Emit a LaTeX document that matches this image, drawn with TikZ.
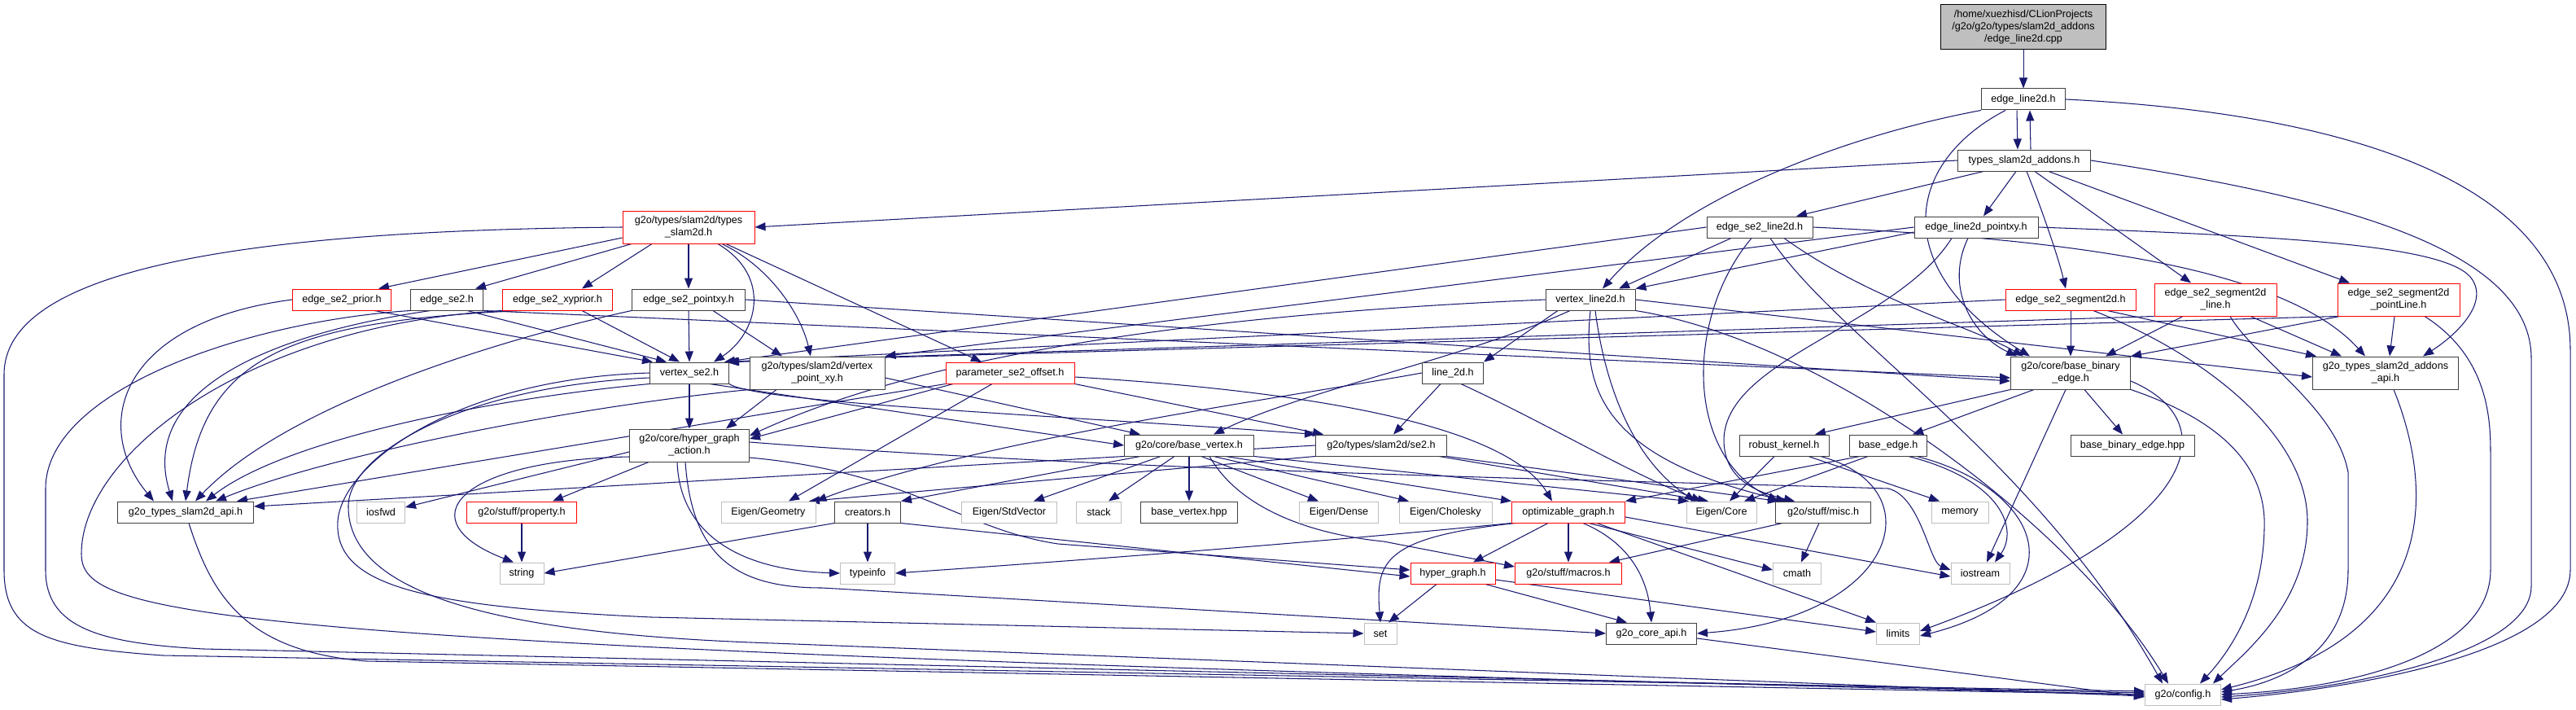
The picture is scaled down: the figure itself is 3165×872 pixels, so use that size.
\documentclass[tikz,border=0pt]{standalone}
\usepackage{fontspec}
\setmainfont{Liberation Sans}
\usetikzlibrary{arrows.meta}
\definecolor{mb}{HTML}{191970}
\definecolor{gb}{HTML}{BFBFBF}
\pgfdeclarelayer{bg}
\pgfsetlayers{bg,main}
\newcommand\nf{\fontsize{12.6}{15}\selectfont}
\begin{document}
\begin{tikzpicture}[x=1pt,y=-1pt,
 nd/.style={draw=black!75,line width=1pt,fill=white,inner sep=0pt,align=center,font=\nf},
 nr/.style={nd,draw=red},
 ng/.style={nd,draw=gb},
 sz/.style 2 args={minimum width=#1pt,minimum height=#2pt},
 e/.style={draw=mb,line width=1.05pt,-{Triangle[length=13pt,width=10pt]}}]
\useasboundingbox (0,0) rectangle (3165,872);
% nodes
\node[nd,fill=gb,draw=black,sz={203}{55}] (cpp) at (2486,33.5) {/home/xuezhisd/CLionProjects\\/g2o/g2o/types/slam2d\_addons\\/edge\_line2d.cpp};
\node[nd,sz={103}{26}] (E1) at (2486,122) {edge\_line2d.h};
\node[nd,sz={163}{26}] (TA) at (2487,197) {types\_slam2d\_addons.h};
\node[nd,sz={152}{26}] (ELP) at (2428,279) {edge\_line2d\_pointxy.h};
\node[nd,sz={130}{26}] (ESL) at (2162,279) {edge\_se2\_line2d.h};
\node[nr,sz={162}{40}] (TS) at (846,279) {g2o/types/slam2d/types\\\_slam2d.h};
\node[nr,sz={121}{26}] (EP) at (420,368) {edge\_se2\_prior.h};
\node[nd,sz={89}{26}] (E2) at (549,368) {edge\_se2.h};
\node[nr,sz={135}{26}] (EXY) at (685,368) {edge\_se2\_xyprior.h};
\node[nd,sz={139}{26}] (EPX) at (846,368) {edge\_se2\_pointxy.h};
\node[nd,sz={110}{26}] (VL) at (1954,368) {vertex\_line2d.h};
\node[nr,sz={160}{26}] (ES) at (2544,368) {edge\_se2\_segment2d.h};
\node[nr,sz={150}{40}] (ESSL) at (2722,368) {edge\_se2\_segment2d\\\_line.h};
\node[nr,sz={150}{40}] (ESPL) at (2947,368) {edge\_se2\_segment2d\\\_pointLine.h};
\node[nd,sz={97}{26}] (VS) at (847,458) {vertex\_se2.h};
\node[nd,sz={166}{40}] (VPX) at (1004,458) {g2o/types/slam2d/vertex\\\_point\_xy.h};
\node[nr,sz={158}{26}] (PSO) at (1241,458) {parameter\_se2\_offset.h};
\node[nd,sz={75}{26}] (L2) at (1785,458) {line\_2d.h};
\node[nd,sz={147}{40}] (BBE) at (2544,458) {g2o/core/base\_binary\\\_edge.h};
\node[nd,sz={179}{40}] (TAA) at (2931,458) {g2o\_types\_slam2d\_addons\\\_api.h};
\node[nd,sz={147}{40}] (HGA) at (847,547) {g2o/core/hyper\_graph\\\_action.h};
\node[nd,sz={159}{26}] (BV) at (1461,547) {g2o/core/base\_vertex.h};
\node[nd,sz={161}{26}] (SE2) at (1697,547) {g2o/types/slam2d/se2.h};
\node[nd,sz={110}{26}] (RK) at (2192,547) {robust\_kernel.h};
\node[nd,sz={95}{26}] (BE) at (2320,547) {base\_edge.h};
\node[nd,sz={152}{26}] (BBH) at (2620,547) {base\_binary\_edge.hpp};
\node[nd,sz={167}{26}] (TAPI) at (228,629) {g2o\_types\_slam2d\_api.h};
\node[ng,sz={59}{26}] (IOSFWD) at (468,629) {iosfwd};
\node[nr,sz={135}{26}] (PROP) at (641,629) {g2o/stuff/property.h};
\node[ng,sz={116}{26}] (EGEO) at (944,629) {Eigen/Geometry};
\node[nd,sz={81}{26}] (CR) at (1066,629) {creators.h};
\node[ng,sz={117}{26}] (ESTD) at (1240,629) {Eigen/StdVector};
\node[ng,sz={55}{26}] (STACK) at (1350,629) {stack};
\node[nd,sz={119}{26}] (BVH) at (1461,629) {base\_vertex.hpp};
\node[ng,sz={97}{26}] (EDENSE) at (1645,629) {Eigen/Dense};
\node[ng,sz={114}{26}] (ECHOL) at (1776,629) {Eigen/Cholesky};
\node[nr,sz={139}{26}] (OG) at (1927,629) {optimizable\_graph.h};
\node[ng,sz={86}{26}] (ECORE) at (2115,629) {Eigen/Core};
\node[nd,sz={117}{26}] (MISC) at (2240,629) {g2o/stuff/misc.h};
\node[ng,sz={70}{26}] (MEM) at (2408,629) {memory};
\node[ng,sz={54}{26}] (STRING) at (641,704) {string};
\node[ng,sz={67}{26}] (TYPEINFO) at (1066,704) {typeinfo};
\node[nr,sz={104}{26}] (HG) at (1785,704) {hyper\_graph.h};
\node[nr,sz={131}{26}] (MAC) at (1927,704) {g2o/stuff/macros.h};
\node[ng,sz={59}{26}] (CMATH) at (2208,704) {cmath};
\node[ng,sz={72}{26}] (IOSTREAM) at (2433,704) {iostream};
\node[ng,sz={40}{26}] (SET) at (1696,778) {set};
\node[nd,sz={111}{26}] (CAPI) at (2029,778) {g2o\_core\_api.h};
\node[ng,sz={53}{26}] (LIMITS) at (2332,778) {limits};
\node[ng,sz={93}{26}] (CFG) at (2682,853) {g2o/config.h};
\begin{pgfonlayer}{bg}
\fill[white] (0,0) rectangle (3165,872);
% top
\draw[e] (cpp) -- (E1);
\draw[e] ([xshift=-8pt]E1.south) -- ([xshift=-8pt]TA.north);
\draw[e] ([xshift=8pt]TA.north) -- ([xshift=8pt]E1.south);
\draw[e] (E1.south west) .. controls (2250,170) and (2060,250) .. ([xshift=15pt]VL.north);
\draw[e] ([xshift=-22pt]E1.south) .. controls (2340,200) and (2320,330) .. ([xshift=-50pt]BBE.north);
\draw[e] (E1.east) .. controls (2900,140) and (3158,230) .. (3158,430) -- (3158,700) .. controls (3158,800) and (2900,845) .. ([yshift=-6pt]CFG.east);
% TA
\draw[e] (TA.west) -- (TS.east);
\draw[e] ([xshift=-50pt]TA.south) -- ([xshift=45pt]ESL.north);
\draw[e] ([xshift=-10pt]TA.south) -- ([xshift=9pt]ELP.north);
\draw[e] ([xshift=3pt]TA.south) .. controls (2510,260) and (2530,320) .. ([xshift=-6pt]ES.north);
\draw[e] ([xshift=13pt]TA.south) -- ([xshift=-30pt]ESSL.north);
\draw[e] ([xshift=30pt]TA.south) -- ([xshift=-60pt]ESPL.north);
\draw[e] (TA.east) .. controls (2850,240) and (3110,300) .. (3110,440) -- (3110,720) .. controls (3110,800) and (2900,845) .. ([yshift=-3pt]CFG.east);
% TS
\draw[e] ([yshift=-13pt]TS.west) -- ([xshift=45pt]EP.north);
\draw[e] ([xshift=-70pt]TS.south) -- ([xshift=35pt]E2.north);
\draw[e] ([xshift=-45pt]TS.south) -- ([xshift=30pt]EXY.north);
\draw[e] (TS.south) -- (EPX.north);
\draw[e] ([xshift=36pt]TS.south) .. controls (950,340) and (930,410) .. ([xshift=30pt]VS.north);
\draw[e] ([xshift=41pt]TS.south) .. controls (950,330) and (985,390) .. ([xshift=-8pt]VPX.north);
\draw[e] ([xshift=46pt]TS.south) -- ([xshift=-35pt]PSO.north);
\draw[e] (TS.west) .. controls (300,283) and (5,330) .. (5,460) -- (5,700) .. controls (5,780) and (60,795) .. (200,805) -- ([yshift=4pt]CFG.west);
% EP
\draw[e] ([xshift=40pt]EP.south) -- ([xshift=-45pt]VS.north);
\draw[e] (EP.west) .. controls (150,395) and (110,520) .. ([xshift=-39pt]TAPI.north);
% E2
\draw[e] ([xshift=25pt]E2.south) -- ([xshift=-28pt]VS.north);
\draw[e] ([xshift=-20pt]E2.south) .. controls (330,410) and (170,480) .. ([xshift=-16pt]TAPI.north);
\draw[e] (E2.south west) .. controls (300,395) and (56,480) .. (56,600) -- (56,700) .. controls (56,770) and (120,790) .. (250,797) -- ([yshift=2pt]CFG.west);
\draw[e] (E2.south east) -- ([yshift=-6pt]BBE.west);
% EXY
\draw[e] ([xshift=30pt]EXY.south) -- ([xshift=-12pt]VS.north);
\draw[e] ([xshift=-45pt]EXY.south) .. controls (350,395) and (250,440) .. (TAPI.north);
\draw[e] (EXY.south west) .. controls (300,400) and (100,560) .. (100,680) .. controls (100,760) and (250,795) .. (CFG.west);
% EPX
\draw[e] (EPX.south) -- (VS.north);
\draw[e] ([xshift=30pt]EPX.south) -- ([xshift=-43pt]VPX.north);
\draw[e] (EPX.south west) .. controls (600,420) and (350,500) .. ([xshift=12pt]TAPI.north);
\draw[e] (EPX.east) -- ([yshift=-10pt]BBE.west);
% VS
\draw[e] (VS.south west) .. controls (600,490) and (350,540) .. ([xshift=25pt]TAPI.north);
\draw[e] (VS.south) -- (HGA.north);
\draw[e] ([xshift=25pt]VS.south) -- (BV.west);
\draw[e] (VS.south east) .. controls (930,495) and (1300,510) .. (SE2.north west);
\draw[e] (VS.west) .. controls (560,465) and (420,570) .. (415,640) .. controls (410,720) and (520,745) .. (800,758) -- (SET.west);
\draw[e] ([yshift=-6pt]VS.west) .. controls (560,475) and (430,560) .. (428,620) .. controls (425,740) and (650,780) .. (950,790) -- ([yshift=-2pt]CFG.west);
% VPX
\draw[e] (VPX.south west) .. controls (700,500) and (400,560) .. ([xshift=37pt]TAPI.north);
\draw[e] ([xshift=-50pt]VPX.south) -- ([xshift=45pt]HGA.north);
\draw[e] ([yshift=-6pt]VPX.east) -- ([xshift=-60pt]BV.north);
% PSO
\draw[e] (PSO.south west) -- ([xshift=63pt]TAPI.north);
\draw[e] ([xshift=-70pt]PSO.south) -- ([yshift=8pt]HGA.east);
\draw[e] ([xshift=-22pt]PSO.south) -- ([xshift=25pt]EGEO.north);
\draw[e] ([yshift=-5pt]PSO.east) .. controls (1600,480) and (1850,520) .. ([xshift=-20pt]OG.north);
\draw[e] (PSO.south east) -- ([xshift=10pt]SE2.north west);
% HGA
\draw[e] ([xshift=-50pt]HGA.south) -- ([xshift=38pt]PROP.north);
\draw[e] ([yshift=-8pt]HGA.west) -- ([yshift=6pt]IOSFWD.east);
\draw[e] ([yshift=-14pt]HGA.west) .. controls (560,565) and (500,640) .. ([xshift=-10pt]STRING.north);
\draw[e] ([xshift=-15pt]HGA.south) .. controls (835,650) and (900,700) .. (TYPEINFO.west);
\draw[e] ([xshift=-5pt]HGA.south) .. controls (850,680) and (900,722) .. (1010,722) -- (CAPI.west);
\draw[e] ([yshift=-15pt]HGA.east) .. controls (1120,580) and (1180,650) .. (1300,668) -- ([yshift=4pt]HG.west);
\draw[e] ([yshift=4pt]HGA.east) .. controls (1400,580) and (2000,590) .. (2320,600) .. controls (2360,610) and (2370,690) .. ([yshift=4pt]IOSTREAM.west);
% CR
\draw[e] (CR.south) -- (TYPEINFO.north);
\draw[e] (CR.south west) -- (STRING.east);
\draw[e] (CR.south east) -- ([yshift=-4pt]HG.west);
% BV
\draw[e] ([xshift=-60pt]BV.south) -- (CR.north east);
\draw[e] ([xshift=-35pt]BV.south) -- ([xshift=30pt]ESTD.north);
\draw[e] ([xshift=-18pt]BV.south) -- ([xshift=12pt]STACK.north);
\draw[e] (BV.south) -- (BVH.north);
\draw[e] ([xshift=15pt]BV.south) -- ([xshift=-25pt]EDENSE.north);
\draw[e] ([xshift=30pt]BV.south) -- ([xshift=-45pt]ECHOL.north);
\draw[e] ([xshift=45pt]BV.south) -- (OG.north west);
\draw[e] (BV.south east) -- ([xshift=-40pt]ECORE.north);
\draw[e] ([xshift=25pt]BV.south) .. controls (1520,620) and (1600,655) .. (1700,665) -- ([yshift=8pt]MAC.west);
% L2
\draw[e] ([xshift=-15pt]L2.south) -- ([xshift=15pt]SE2.north);
\draw[e] ([xshift=10pt]L2.south) .. controls (1900,520) and (2000,580) .. ([xshift=-24pt]ECORE.north);
\draw[e] (L2.west) .. controls (1600,485) and (1200,540) .. (EGEO.north east);
% SE2
\draw[e] (SE2.west) -- ([yshift=7pt]TAPI.east);
\draw[e] ([xshift=-10pt]SE2.south east) -- ([xshift=-16pt]ECORE.north);
\draw[e] (SE2.south east) -- ([xshift=-55pt]MISC.north);
\draw[e] (SE2.south west) -- ([xshift=50pt]EGEO.north);
% VL
\draw[e] ([xshift=-25pt]VL.south) .. controls (1800,440) and (1600,480) .. ([xshift=30pt]BV.north);
\draw[e] ([xshift=-40pt]VL.south) -- (L2.north east);
\draw[e] (VL.south) .. controls (1945,470) and (1960,560) .. ([xshift=-45pt]MISC.north);
\draw[e] ([xshift=6pt]VL.south) .. controls (1970,460) and (2000,560) .. ([xshift=-32pt]ECORE.north);
\draw[e] (VL.east) -- ([yshift=-5pt]TAA.west);
\draw[e] (VL.south east) .. controls (2250,420) and (2550,650) .. ([xshift=-18pt]CFG.north);
\draw[e] (VL.west) .. controls (1500,385) and (1150,430) .. ([yshift=12pt]HGA.east);
% ESL
\draw[e] (ESL.west) -- ([xshift=43pt]VS.north);
\draw[e] ([xshift=-35pt]ESL.south) -- ([xshift=35pt]VL.north);
\draw[e] ([xshift=30pt]ESL.south) .. controls (2300,370) and (2420,400) .. ([xshift=-58pt]BBE.north);
\draw[e] ([xshift=-10pt]ESL.south) .. controls (2070,390) and (2070,560) .. ([xshift=-55pt]MISC.north);
\draw[e] (ESL.east) .. controls (2500,292) and (2800,320) .. ([xshift=-25pt]TAA.north);
\draw[e] ([xshift=13pt]ESL.south) .. controls (2260,420) and (2500,560) .. ([xshift=-25pt]CFG.north);
% ELP
\draw[e] ([yshift=-6pt]ELP.west) -- (VL.north east);
\draw[e] (ELP.west) -- (VPX.north east);
\draw[e] ([xshift=-10pt]ELP.south) .. controls (2390,350) and (2420,410) .. ([xshift=-66pt]BBE.north);
\draw[e] ([xshift=-30pt]ELP.south) .. controls (2330,400) and (2120,440) .. (2118,540) .. controls (2118,590) and (2160,605) .. ([xshift=-35pt]MISC.north);
\draw[e] (ELP.east) .. controls (2800,290) and (3000,300) .. (3035,340) .. controls (3060,370) and (3020,410) .. ([xshift=46pt]TAA.north);
% ES
\draw[e] (ES.west) -- ([xshift=46pt]VS.north);
\draw[e] (ES.south) -- (BBE.north);
\draw[e] ([xshift=45pt]ES.south) -- ([xshift=-85pt]TAA.north);
\draw[e] ([xshift=28pt]ES.south) .. controls (2720,440) and (2835,540) .. (2835,640) .. controls (2835,740) and (2760,800) .. ([xshift=37pt]CFG.north);
% ESSL
\draw[e] (ESSL.south west) -- ([xshift=48pt]VS.north);
\draw[e] ([xshift=-40pt]ESSL.south) -- ([xshift=43pt]BBE.north);
\draw[e] ([xshift=43pt]ESSL.south) -- ([xshift=-54pt]TAA.north);
\draw[e] ([xshift=18pt]ESSL.south) .. controls (2770,440) and (2870,500) .. (2885,580) -- (2885,700) .. controls (2885,790) and (2820,835) .. ([yshift=3pt]CFG.east);
% ESPL
\draw[e] (ESPL.south west) -- ([xshift=48pt]VS.north);
\draw[e] ([xshift=-72pt]ESPL.south) -- (BBE.north east);
\draw[e] ([xshift=-5pt]ESPL.south) -- ([xshift=5pt]TAA.north);
\draw[e] ([xshift=32pt]ESPL.south) .. controls (3060,440) and (3060,520) .. (3060,560) -- (3060,700) .. controls (3060,800) and (2900,845) .. (CFG.east);
% TAA
\draw[e] ([xshift=10pt]TAA.south) .. controls (2990,600) and (3000,780) .. ([yshift=6pt]CFG.east);
% BBE
\draw[e] ([xshift=-45pt]BBE.south) -- ([xshift=30pt]BE.north);
\draw[e] (BBE.south west) -- ([xshift=38pt]RK.north);
\draw[e] ([xshift=17pt]BBE.south) -- ([xshift=-12pt]BBH.north);
\draw[e] ([xshift=-6pt]BBE.south) -- ([xshift=8pt]IOSTREAM.north);
\draw[e] ([yshift=-10pt]BBE.east) .. controls (2740,520) and (2700,650) .. ([yshift=3pt]LIMITS.east);
\draw[e] (BBE.south east) .. controls (2740,520) and (2785,580) .. (2782,650) .. controls (2780,740) and (2740,800) .. ([xshift=21pt]CFG.north);
% BE
\draw[e] ([xshift=-35pt]BE.south) -- (OG.north east);
\draw[e] ([xshift=-25pt]BE.south) -- ([xshift=28pt]ECORE.north);
\draw[e] ([xshift=25pt]BE.south) .. controls (2460,590) and (2480,650) .. ([xshift=18pt]IOSTREAM.north);
\draw[e] ([xshift=35pt]BE.south) .. controls (2510,600) and (2560,730) .. ([yshift=-3pt]LIMITS.east);
% RK
\draw[e] ([xshift=-12pt]RK.south) -- ([xshift=10pt]ECORE.north);
\draw[e] ([xshift=30pt]RK.south) -- ([xshift=-25pt]MEM.north);
\draw[e] ([xshift=45pt]RK.south) .. controls (2380,600) and (2330,760) .. (CAPI.east);
% MISC
\draw[e] ([xshift=-5pt]MISC.south) -- ([xshift=5pt]CMATH.north);
\draw[e] ([xshift=-50pt]MISC.south) -- ([xshift=50pt]MAC.north);
% OG
\draw[e] ([xshift=-25pt]OG.south) -- ([xshift=25pt]HG.north);
\draw[e] (OG.south) -- (MAC.north);
\draw[e] ([xshift=18pt]OG.south) .. controls (2010,670) and (2025,720) .. (CAPI.north);
\draw[e] ([xshift=25pt]OG.south) -- ([yshift=4pt]CMATH.west);
\draw[e] ([xshift=35pt]OG.south) -- (LIMITS.north west);
\draw[e] ([yshift=-6pt]OG.east) -- ([yshift=-4pt]IOSTREAM.west);
\draw[e] ([xshift=-65pt]OG.south) .. controls (1700,660) and (1690,690) .. (SET.north);
\draw[e] (OG.south west) .. controls (1600,668) and (1300,690) .. (TYPEINFO.east);
% HG
\draw[e] ([xshift=-20pt]HG.south) -- ([xshift=10pt]SET.north);
\draw[e] ([xshift=40pt]HG.south) -- ([xshift=-30pt]CAPI.north);
\draw[e] ([yshift=-8pt]HG.east) -- ([yshift=2pt]LIMITS.west);
% misc
\draw[e] ([yshift=-6pt]CAPI.east) -- ([yshift=-3pt]CFG.west);
\draw[e] ([xshift=4pt]TAPI.south) .. controls (260,730) and (300,800) .. (450,812) -- (CFG.west);
\draw[e] (PROP) -- (STRING);
\end{pgfonlayer}
\end{tikzpicture}
\end{document}
